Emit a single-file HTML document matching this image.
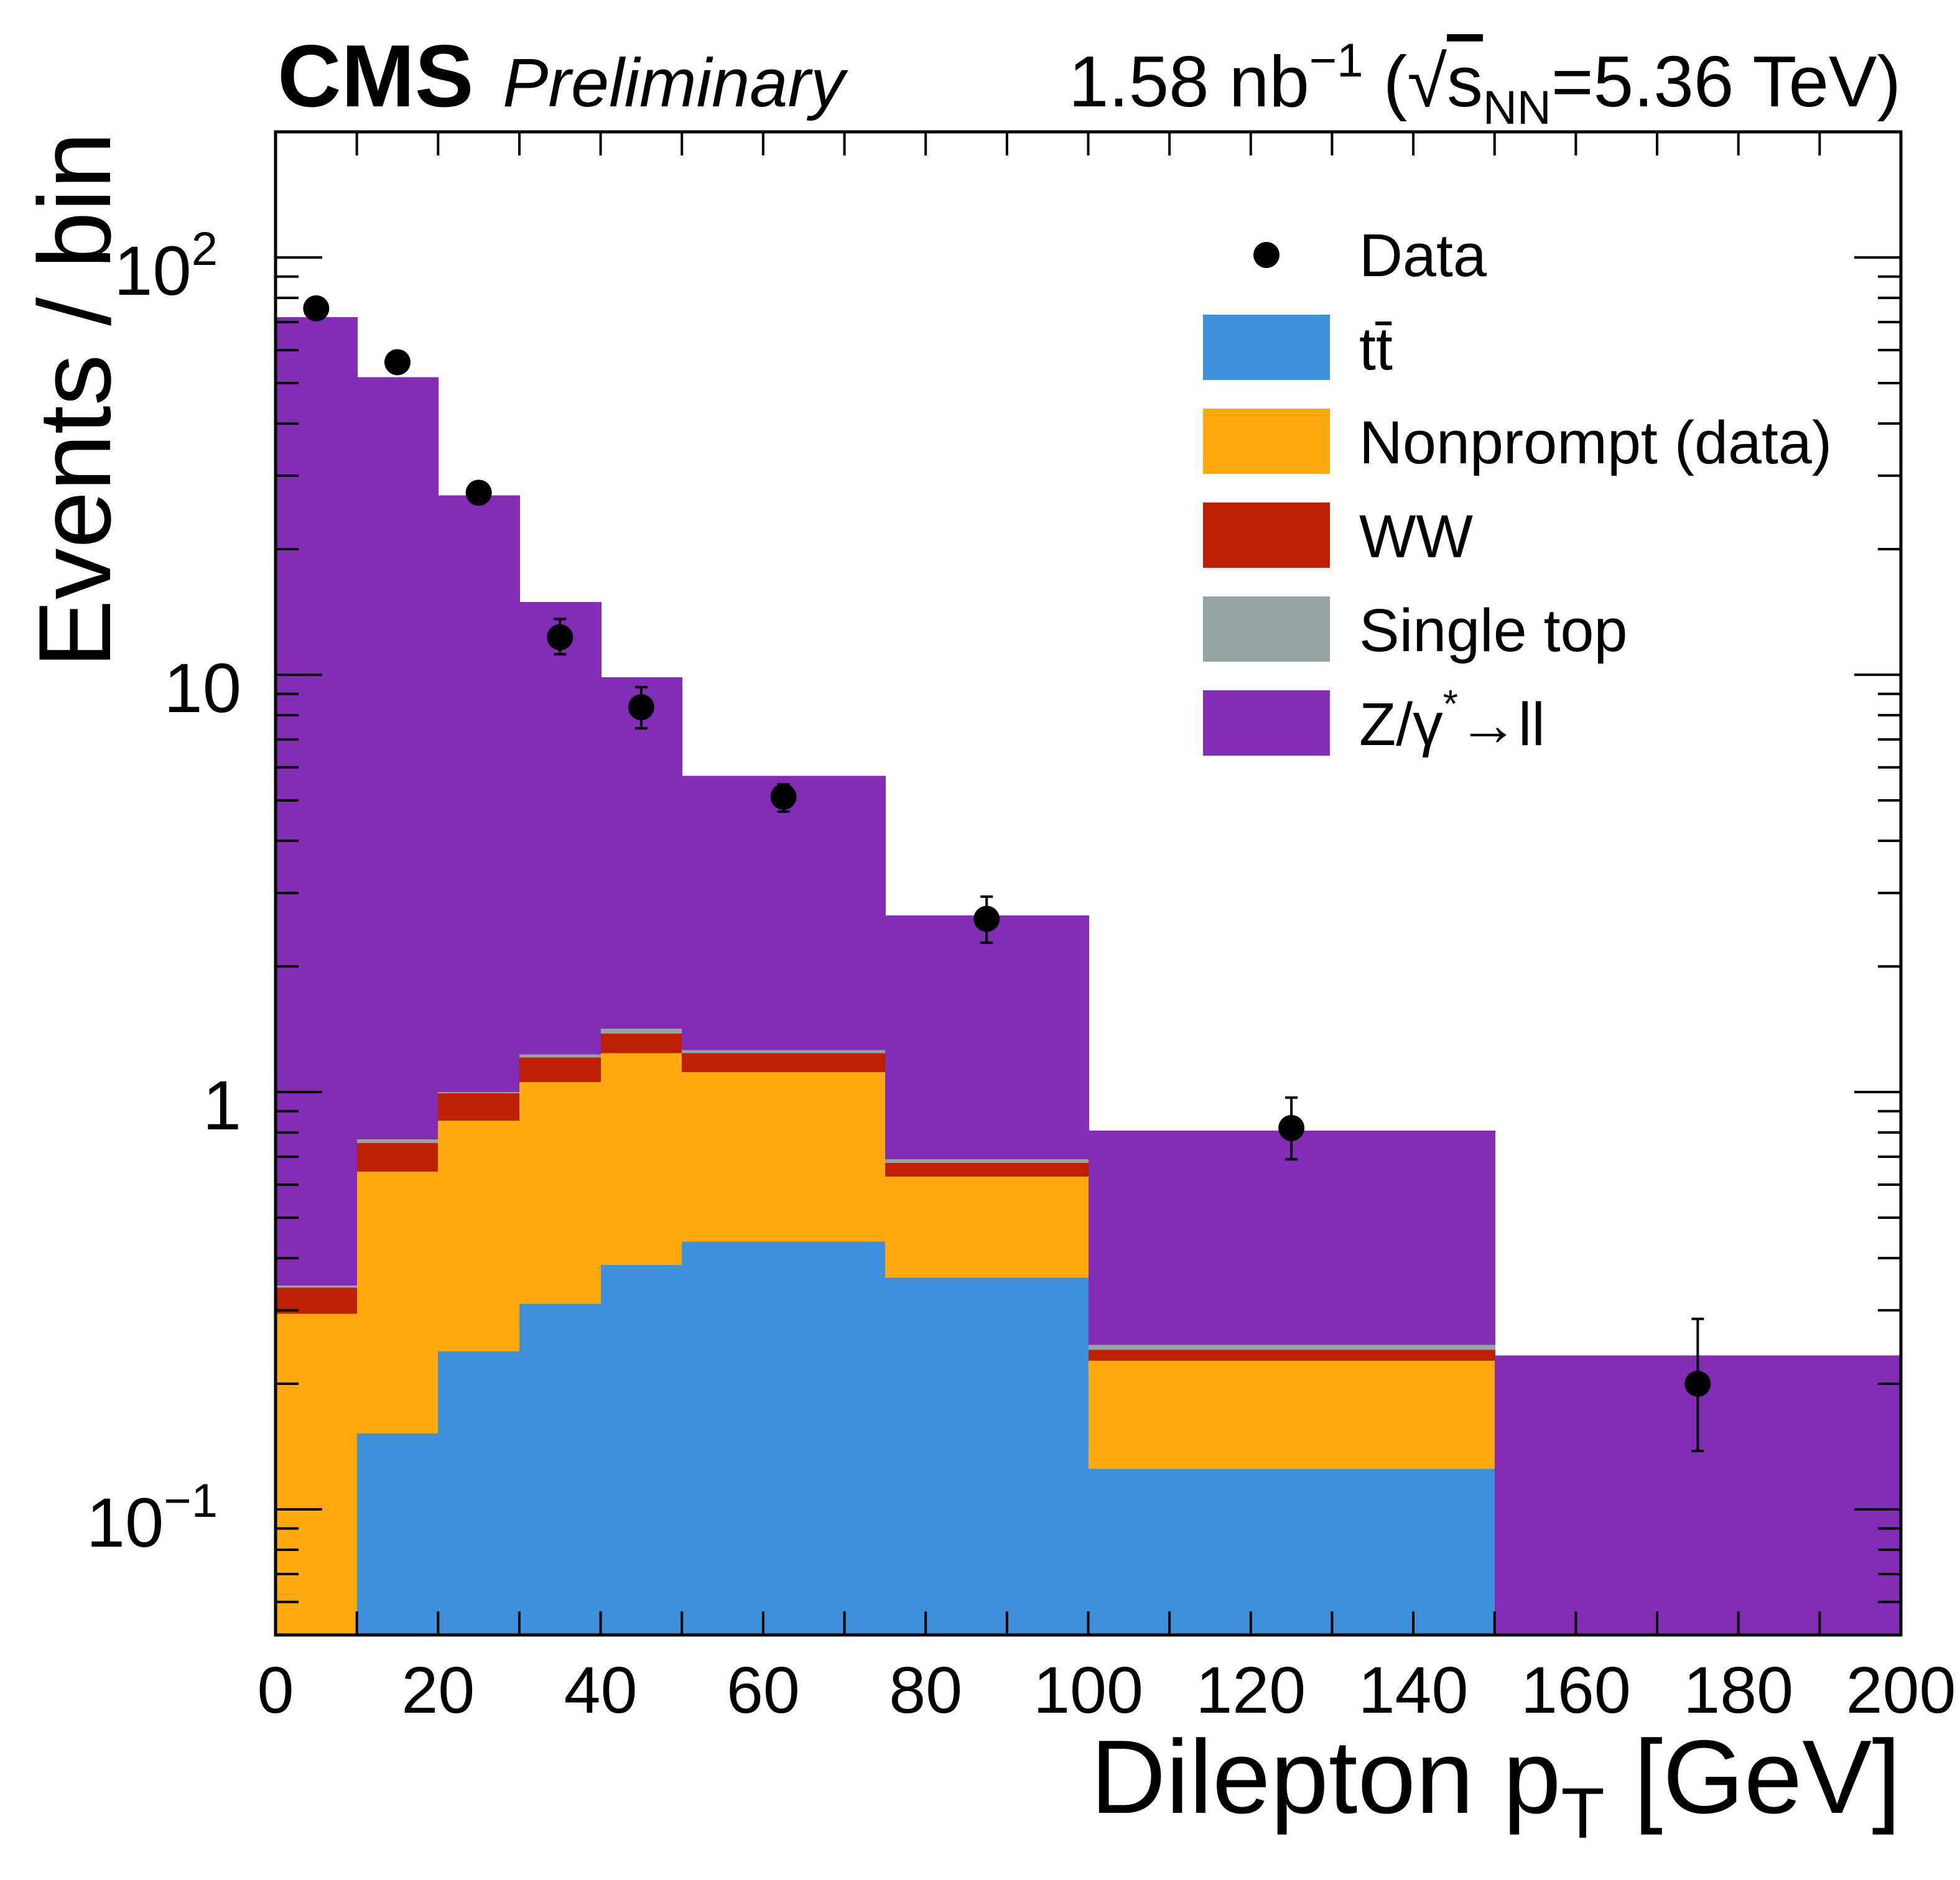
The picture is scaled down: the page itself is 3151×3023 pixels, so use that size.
<!DOCTYPE html>
<html><head><meta charset="utf-8"><style>
html,body{margin:0;padding:0;background:#fff;}
svg{display:block;font-family:"Liberation Sans",sans-serif;}
</style></head><body>
<svg id="chart" width="3151" height="3023" viewBox="0 0 3151 3023" xmlns="http://www.w3.org/2000/svg">
<g id="bars" shape-rendering="crispEdges"></g>
<g id="datapts"></g>
<g id="axes"></g>
<text x="446" y="171" font-size="142" font-weight="bold">CMS</text>
<text x="808" y="171" font-size="110" font-style="italic">Preliminary</text>
<text x="3056" y="171" font-size="116" text-anchor="end">1.58 nb<tspan dy="-48" font-size="76">−1</tspan><tspan dy="48"> (</tspan><tspan>√</tspan><tspan text-decoration="overline">s</tspan><tspan dy="28" font-size="76">NN</tspan><tspan dy="-28">=5.36 TeV)</tspan></text>
<text x="3056" y="2915" font-size="168" text-anchor="end">Dilepton p<tspan dy="40" font-size="115">T</tspan><tspan dy="-40"> [GeV]</tspan></text>
<text transform="translate(177,212) rotate(-90)" font-size="165" text-anchor="end">Events / bin</text>
<g id="legend"></g>
</svg>
<script>
const binEdges=[0,10,20,30,40,50,75,100,150,200];
const ttbar=[0,0.152,0.239,0.311,0.385,0.438,0.359,0.125,0];
const nonprompt=[0.294,0.492,0.615,0.745,0.855,0.678,0.268,0.102,0];
const ww=[0.046,0.111,0.139,0.154,0.14,0.124,0.049,0.014,0];
const singletop=[0.004,0.015,0.007,0.02,0.04,0.02,0.014,0.007,0];
const zll=[71.6,50.9,25.9,13.7,8.44,4.47,1.96,0.56,0.234];
const dataX=[5,15,25,35,45,62.5,87.5,125,175];
const dataY=[75.5,56.1,27.3,12.3,8.36,5.1,2.6,0.82,0.2];
const dataHi=[75.5,56.1,27.3,13.6,9.34,5.46,2.94,0.97,0.286];
const dataLo=[75.5,56.1,27.3,11.2,7.44,4.7,2.28,0.69,0.138];
const xTicks=[0,20,40,60,80,100,120,140,160,180,200];
const yMajor=[0.1,1,10,100];

const L=443,R=3056,T=212,B=2629,YMIN=0.05,YMAX=200;
const NS='http://www.w3.org/2000/svg';
const sx=v=>L+(v-binEdges[0])/(binEdges[binEdges.length-1]-binEdges[0])*(R-L);
const sy=v=>{v=Math.max(v,1e-6);let y=T+(Math.log10(YMAX)-Math.log10(v))/(Math.log10(YMAX)-Math.log10(YMIN))*(B-T);return Math.min(Math.max(y,T),B);};
function mk(tag,attrs,parent){const e=document.createElementNS(NS,tag);for(const k in attrs)e.setAttribute(k,attrs[k]);parent.appendChild(e);return e;}

const series=[[ttbar,'#3f90da','ttbar'],[nonprompt,'#ffa90e','nonprompt'],[ww,'#bd1f01','ww'],[singletop,'#94a4a2','single-top'],[zll,'#832db6','zll']];
const bars=document.getElementById('bars');
for(let i=0;i<binEdges.length-1;i++){
  let base=0;
  for(const [arr,col,nm] of series){
    const top=base+arr[i];
    if(arr[i]>0){
      const y0=sy(base>0?base:YMIN*0.5),y1=sy(top);
      const x0=Math.round(sx(binEdges[i])),x1=Math.round(sx(binEdges[i+1]));
      const r=mk('rect',{x:x0,y:y1,width:x1-x0+1,height:Math.max(0,y0-y1),fill:col},bars);
      
      
    }
    base=top;
  }
}
const dp=document.getElementById('datapts');
for(let i=0;i<dataX.length;i++){
  const x=sx(dataX[i]);
  if(dataHi[i]>dataY[i]||dataLo[i]<dataY[i]){
    const e=mk('line',{x1:x,x2:x,y1:sy(dataHi[i]),y2:sy(dataLo[i]),stroke:'#000','stroke-width':4},dp);
    
    
    for(const v of [dataHi[i],dataLo[i]]){
      const c=mk('line',{x1:x-10,x2:x+10,y1:sy(v),y2:sy(v),stroke:'#000','stroke-width':4},dp);
      
      
    }
  }
  const c=mk('circle',{cx:x,cy:sy(dataY[i]),r:21,fill:'#000'},dp);
  
  
}
const ax=document.getElementById('axes');
const frame=mk('rect',{x:L,y:T,width:R-L,height:B-T,fill:'none',stroke:'#000','stroke-width':5},ax);


for(let v=0;v<=200;v+=10){
  const x=sx(v);
  mk('line',{x1:x,x2:x,y1:B,y2:B-38,stroke:'#000','stroke-width':4},ax);
  mk('line',{x1:x,x2:x,y1:T,y2:T+38,stroke:'#000','stroke-width':4},ax);
}
for(const v of xTicks){
  const t=mk('text',{x:sx(v),y:2754,'font-size':106,'text-anchor':'middle'},ax);
  t.textContent=String(v);
  
  
}
for(let d=-2;d<=2;d++){
  for(let m=1;m<=9;m++){
    const v=m*Math.pow(10,d);
    if(v<YMIN||v>YMAX)continue;
    const y=sy(v),len=m===1?75:37;
    mk('line',{x1:L,x2:L+len,y1:y,y2:y,stroke:'#000','stroke-width':4},ax);
    mk('line',{x1:R,x2:R-len,y1:y,y2:y,stroke:'#000','stroke-width':4},ax);
  }
}
const yLab={0.1:['10','−1'],1:['1',''],10:['10',''],100:['10','2']};
for(const v of yMajor){
  const [b,e]=yLab[v];
  const t=mk('text',{x:e?350:388,y:sy(v)+60,'font-size':112,'text-anchor':'end'},ax);
  
  
  const s1=document.createElementNS(NS,'tspan');s1.textContent=b;t.appendChild(s1);
  if(e){const s2=document.createElementNS(NS,'tspan');s2.setAttribute('dy','-48');s2.setAttribute('font-size','76');s2.textContent=e;t.appendChild(s2);}
}
const lg=document.getElementById('legend');
const dm=mk('circle',{cx:2036,cy:410,r:21,fill:'#000'},lg);


const dt=mk('text',{x:2185,y:444,'font-size':97},lg);
dt.textContent='Data';


const labels=['tt̄','Nonprompt (data)','WW','Single top',null];
for(let k=0;k<5;k++){
  const y=506+151*k;
  const r=mk('rect',{x:1934,y:y,width:204,height:105,fill:series[k][1]},lg);
  
  
  const t=mk('text',{x:2185,y:y+88,'font-size':97},lg);
  
  
  if(labels[k])t.textContent=labels[k];
  else t.innerHTML='Z/γ<tspan dy="-45" font-size="62">*</tspan><tspan dy="45">→ll</tspan>';
}
</script>
</body></html>
